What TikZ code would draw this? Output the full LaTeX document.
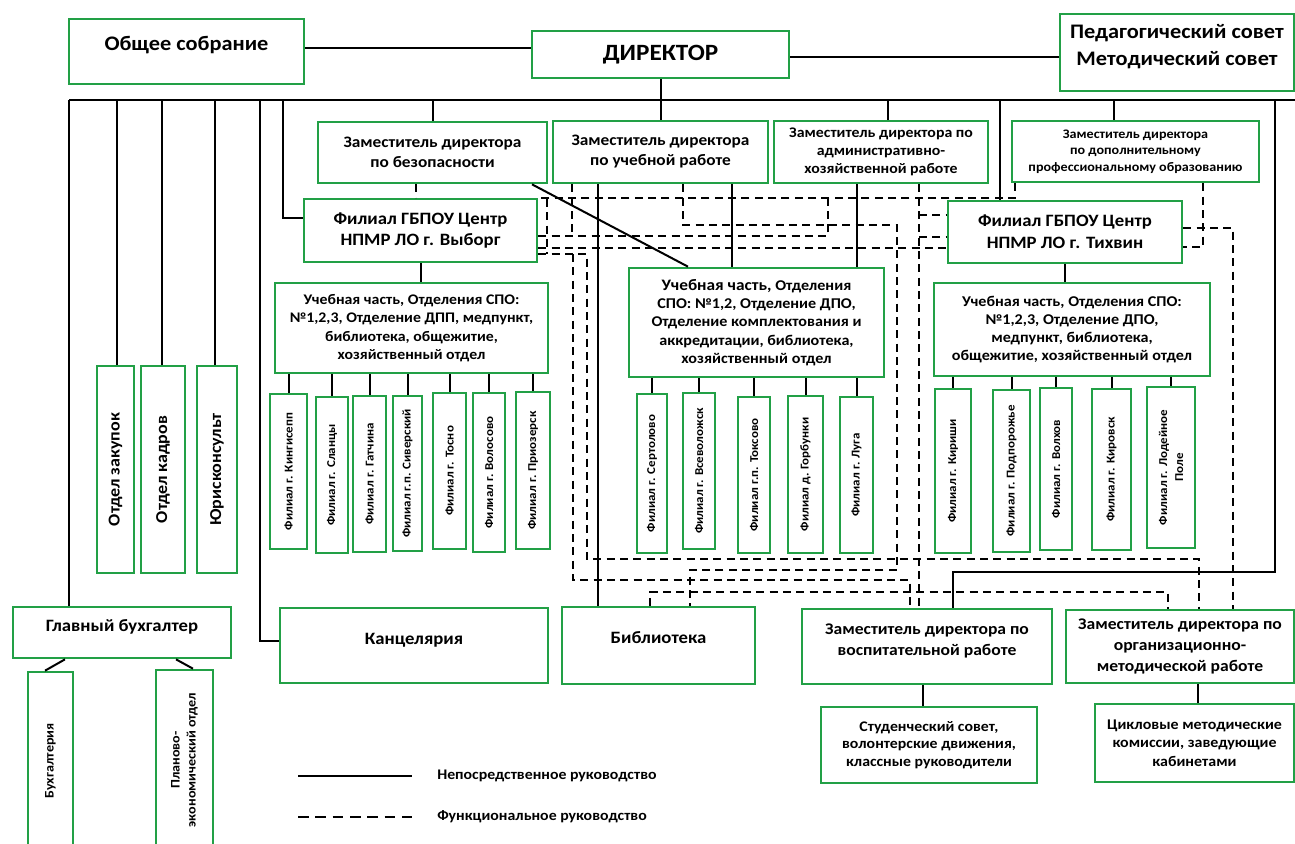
\documentclass[tikz,border=0pt]{standalone}
\usepackage{fontspec}
\setmainfont{Carlito}[FakeStretch=1.08]
\usetikzlibrary{calc}
\definecolor{grn}{RGB}{34,160,70}
\newcommand\fnt[2]{\bfseries\fontsize{#1}{#2}\selectfont}
\newcommand\hb[7][]{\node[box,#1,minimum width={(#5-#3)*0.75pt},minimum height={(#6-#4)*0.75pt}] (#2) at ({(#3+#5)/2},{(#4+#6)/2}) {#7};}
\newcommand\vb[7][]{\node[box,rotate=90,#1,minimum width={(#6-#4)*0.75pt},minimum height={(#5-#3)*0.75pt}] (#2) at ({(#3+#5)/2},{(#4+#6)/2}) {#7};}
\begin{document}
\begin{tikzpicture}[x=0.75pt,y=-0.75pt,
  box/.style={draw=grn,line width=2pt,fill=white,inner sep=1pt,align=center},
  txt/.style={inner sep=0pt,align=center},
  ln/.style={line width=1.5pt,black},
  dsh/.style={line width=1.5pt,black,dash pattern=on 6pt off 4pt},
  legdsh/.style={line width=1.5pt,black,dash pattern=on 8pt off 5pt}]
\useasboundingbox (0,0) rectangle (1295,843);
\clip (0,0) rectangle (1295,843);
% lanes
\foreach \v in {45,65,117,162,176,193,215,260,283,416,532,547,572,573,587,598,650,683,688,690,732,828,857,888,897,910,919,923,953,1000,1015,1114,1168,1198,1199,1203,1233,1275} {\coordinate (v\v) at (\v,0);}
\foreach \h in {48,57,100,199,215,218,225,228,236,237,247,248,254,559,570,572,580,592,641} {\coordinate (h\h) at (0,\h);}
% top boxes
\hb{gen}{69}{19}{304}{84}{}
\node[txt,font=\fnt{15.5}{19}] (gen-t) at (186.5,45) {Общее собрание};
\hb[font=\fnt{17.5}{21}]{dir}{532}{31}{789}{78}{ДИРЕКТОР}
\hb{ped}{1060}{14}{1294}{91}{}
\node[txt,font=\fnt{15.5}{20.25}] (ped-t) at (1177,47) {Педагогический совет\\Методический совет};
% deputies
\hb[font=\fnt{12}{15}]{zb}{318}{122}{547}{183}{Заместитель директора\\по безопасности}
\hb[font=\fnt{12}{15}]{zu}{553}{121}{768}{183}{Заместитель директора\\по учебной работе}
\hb[font=\fnt{11}{13.5}]{zx}{774}{121}{988}{183}{Заместитель директора по\\административно-\\хозяйственной работе}
\hb[font=\fnt{9.8}{12.2}]{zd}{1012}{121}{1259}{182}{Заместитель директора\\по дополнительному\\профессиональному образованию}
% filials
\hb[font=\fnt{13}{16.3}]{fv}{304}{199}{537}{262}{Филиал ГБПОУ Центр\\НПМР ЛО г. Выборг}
\hb[font=\fnt{13}{16.3}]{ft}{948}{201}{1182}{263}{Филиал ГБПОУ Центр\\НПМР ЛО г. Тихвин}
\hb[font=\fnt{11}{13.7}]{uv}{275}{283}{548}{373}{Учебная часть, Отделения СПО:\\№1,2,3, Отделение ДПП, медпункт,\\библиотека, общежитие,\\хозяйственный отдел}
\hb[font=\fnt{11.2}{13.7}]{uc}{629}{268}{884}{377}{{\fontsize{12}{13.7}\selectfont Учебная часть,} Отделения\\СПО: №1,2, Отделение ДПО,\\Отделение комплектования и\\аккредитации, библиотека,\\хозяйственный отдел}
\hb[font=\fnt{11.2}{13.7}]{ut}{934}{283}{1210}{376}{Учебная часть, Отделения СПО:\\№1,2,3, Отделение ДПО,\\медпункт, библиотека,\\общежитие, хозяйственный отдел}
% vertical department boxes
\vb[font=\fnt{12.5}{15}]{zak}{97}{366}{134}{573}{Отдел закупок}
\vb[font=\fnt{12.5}{15}]{kad}{141}{366}{185}{573}{Отдел кадров}
\vb[font=\fnt{12.5}{15}]{yur}{197}{366}{237}{573}{Юрисконсульт}
% branches
\vb[font=\fnt{9}{11}]{b1}{270}{394}{307}{549}{Филиал г. Кингисепп}
\vb[font=\fnt{9}{11}]{b2}{316}{397}{348}{553}{Филиал г. Сланцы}
\vb[font=\fnt{9}{11}]{b3}{353}{396}{386}{552}{Филиал г. Гатчина}
\vb[font=\fnt{9}{11}]{b4}{393}{396}{422}{551}{Филиал г.п. Сиверский}
\vb[font=\fnt{9}{11}]{b5}{433}{393}{466}{549}{Филиал г. Тосно}
\vb[font=\fnt{9}{11}]{b6}{473}{393}{505}{552}{Филиал г. Волосово}
\vb[font=\fnt{9}{11}]{b7}{516}{392}{550}{549}{Филиал г. Приозерск}
\vb[font=\fnt{9}{11}]{c1}{637}{394}{667}{553}{Филиал г. Сертолово}
\vb[font=\fnt{9}{11}]{c2}{683}{393}{715}{549}{Филиал г. Всеволожск}
\vb[font=\fnt{9}{11}]{c3}{738}{397}{770}{553}{Филиал г.п. Токсово}
\vb[font=\fnt{9}{11}]{c4}{788}{396}{823}{553}{Филиал д. Горбунки}
\vb[font=\fnt{9}{11}]{c5}{840}{397}{873}{553}{Филиал г. Луга}
\vb[font=\fnt{9}{11}]{t1}{935}{389}{971}{553}{Филиал г. Кириши}
\vb[font=\fnt{9}{11}]{t2}{993}{390}{1030}{552}{Филиал г. Подпорожье}
\vb[font=\fnt{9}{11}]{t3}{1040}{388}{1072}{550}{Филиал г. Волхов}
\vb[font=\fnt{9}{11}]{t4}{1092}{389}{1131}{550}{Филиал г. Кировск}
\vb[font=\fnt{9}{12}]{t5}{1147}{387}{1195}{548}{Филиал г. Лодейное\\Поле}
% bottom boxes
\hb{glav}{13}{607}{231}{658}{}
\node[txt,font=\fnt{13}{15}] (glav-t) at (122,627) {Главный бухгалтер};
\hb{kanc}{280}{608}{548}{683}{}
\node[txt,font=\fnt{13}{16}] (kanc-t) at (414,640) {Канцелярия};
\hb{bib}{562}{607}{755}{684}{}
\node[txt,font=\fnt{13}{16}] (bib-t) at (658.5,638) {Библиотека};
\hb{zvos}{802}{609}{1052}{684}{}
\node[txt,font=\fnt{12.2}{16.3}] (zvos-t) at (927,641) {Заместитель директора по\\воспитательной работе};
\hb[font=\fnt{12.2}{15.6}]{zorg}{1066}{610}{1294}{683}{Заместитель директора по\\организационно-\\методической работе}
\hb[font=\fnt{11}{13.1}]{stud}{821}{707}{1037}{783}{Студенческий совет,\\волонтерские движения,\\классные руководители}
\hb[font=\fnt{11.1}{14}]{cyc}{1095}{704}{1294}{782}{Цикловые методические\\комиссии, заведующие\\кабинетами}
\vb[font=\fnt{9.8}{12}]{buh}{28}{672}{73}{850}{Бухгалтерия}
\vb[font=\fnt{9.8}{12}]{pl}{156}{670}{213}{850}{Планово-\\экономический отдел}
% solid connectors
\coordinate (busL) at (69,100);
\coordinate (busR) at (1295,100);
\draw[ln] (gen.east |- h48) -- (dir.west |- h48);
\draw[ln] (dir.east |- h57) -- (ped.west |- h57);
\draw[ln] (dir.south) -- (dir.south |- busL);
\draw[ln] (busL) -- (busR);
\draw[ln] (busL) -- (glav.north -| busL);
\draw[ln] (v117 |- busL) -- (zak.east -| v117);
\draw[ln] (v162 |- busL) -- (kad.east -| v162);
\draw[ln] (v215 |- busL) -- (yur.east -| v215);
\draw[ln] (v260 |- busL) |- (kanc.west |- h641);
\draw[ln] (v283 |- busL) |- (fv.west |- h218);
\draw[ln] (zb.north |- busL) -- (zb.north);
\draw[ln] (zu.north |- busL) -- (zu.north);
\draw[ln] (v888 |- busL) -- (zx.north -| v888);
\draw[ln] (v1000 |- busL) -- (ft.north -| v1000);
\draw[ln] (v1114 |- busL) -- (zd.north -| v1114);
\draw[ln] (v1275 |- busL) |- (v953 |- h572) -- (zvos.north -| v953);
\draw[ln] (fv.south) -- (fv.south |- uv.north);
\draw[ln] (ft.south) -- (ft.south |- ut.north);
\foreach \b in {b1,b2,b3,b4,b5,b6,b7} {\draw[ln] (\b.east |- uv.south) -- (\b.east);}
\foreach \b in {c1,c2,c3,c4,c5} {\draw[ln] (\b.east |- uc.south) -- (\b.east);}
\foreach \b in {t1,t2,t3,t4,t5} {\draw[ln] (\b.east |- ut.south) -- (\b.east);}
\draw[ln] (zu.south -| v732) -- (uc.north -| v732);
\draw[ln] (zx.south -| v857) -- (uc.north -| v857);
\draw[ln] (zb.south -| v532) -- (uc.north -| v688);
\draw[ln] (zu.south -| v598) -- (bib.north -| v598);
\draw[ln] (zvos.south -| v923) -- (stud.north -| v923);
\draw[ln] (zorg.south -| v1198) -- (cyc.north -| v1198);
\draw[ln] (glav.south -| v65) -- (buh.east -| v45);
\draw[ln] (glav.south -| v176) -- (pl.east -| v193);
% dashed connectors
\draw[dsh] (zb.south -| v416) -- (fv.north -| v416);
\draw[dsh] (zd.south -| v1015) |- (fv.north east);
\draw[dsh] (v547 |- h199) -- (v547 |- h254);
\draw[dsh] (zu.south -| v683) |- (v897 |- h225) |- (v690 |- h570) -- (bib.north -| v690);
\draw[dsh] (zu.south -| v572) -- (v572 |- h236);
\draw[dsh] (fv.east |- h236) -| (v828 |- h199);
\draw[dsh] (fv.east |- h248) -- (ft.west |- h248);
\draw[dsh] (zx.south -| v919) -- (zvos.north -| v919);
\draw[dsh] (v919 |- h215) -- (ft.west |- h215);
\draw[dsh] (v919 |- h237) -- (ft.west |- h237);
\draw[dsh] (fv.east |- h254) -| (v587 |- h559) -| (zorg.north -| v1199);
\draw[dsh] (v573 |- h254) |- (v910 |- h580) -- (zvos.north -| v910);
\draw[dsh] (bib.north -| v650) |- (v1168 |- h592) -- (zorg.north -| v1168);
\draw[dsh] (ft.east |- h228) -| (zorg.north -| v1233);
\draw[dsh] (zd.south -| v1203) |- (ft.east |- h247);
% legend
\coordinate (la1) at (298,776);
\coordinate (la2) at (412,776);
\coordinate (lb1) at (298,817);
\coordinate (lb2) at (412,817);
\draw[ln] (la1) -- (la2);
\draw[legdsh] (lb1) -- (lb2);
\node[txt,anchor=west,font=\fnt{11}{13}] (lg1) at (437,776) {Непосредственное руководство};
\node[txt,anchor=west,font=\fnt{11}{13}] (lg2) at (437,817) {Функциональное руководство};
\end{tikzpicture}
\end{document}
